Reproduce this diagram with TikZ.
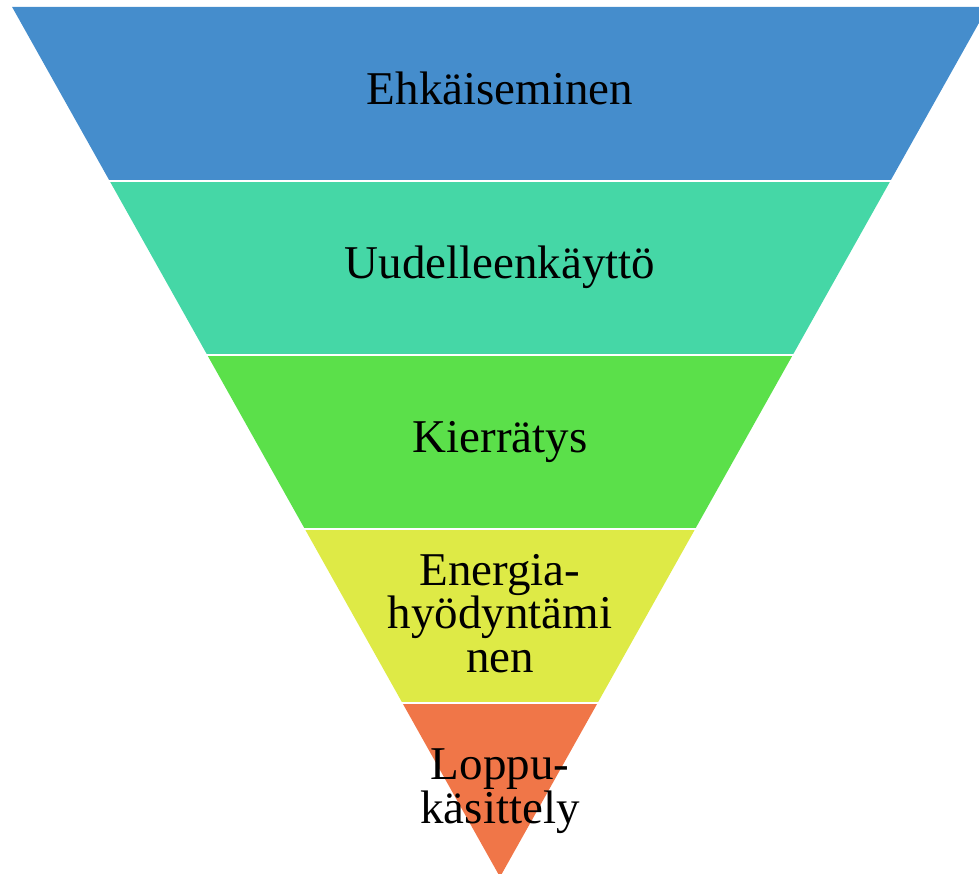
\documentclass[tikz,border=0pt]{standalone}
\usepackage{fontspec}
\setmainfont{Liberation Serif}
\usetikzlibrary{calc}

\definecolor{preventblue}{HTML}{458DCC}
\definecolor{reuseteal}{HTML}{45D7A6}
\definecolor{recyclegreen}{HTML}{5BE04A}
\definecolor{energyyellow}{HTML}{DEEA46}
\definecolor{disposalorange}{HTML}{F07648}

\begin{document}
\begin{tikzpicture}
[
    x=1pt, y=1pt,
    gap/.style={white, line width=2pt},
    level/.style={
        font=\fontsize{47}{43.5}\selectfont,
        align=center,
        inner sep=0pt,
        anchor=base,
    }
]
\useasboundingbox (0,0) rectangle (979,873);
\clip (0,0) rectangle (979,873);

% Define the corners of the funnel
\coordinate (apex) at (500,-4);
\coordinate (topleft) at (12.1,866);
\coordinate (topright) at (987.9,866);

% Bands from top to bottom
\foreach \col [count=\i] in {preventblue,reuseteal,recyclegreen,energyyellow,disposalorange} {
    \pgfmathsetmacro{\upper}{1.2-0.2*\i}
    \pgfmathsetmacro{\lower}{1-0.2*\i}
    \fill[\col] ($(apex)!\lower!(topleft)$) -- ($(apex)!\upper!(topleft)$)
        -- ($(apex)!\upper!(topright)$) -- ($(apex)!\lower!(topright)$) -- cycle;
}

% White gaps between the bands
\foreach \f in {0.2,0.4,0.6,0.8}
    \draw[gap] ($(apex)!\f!(topleft)+(-5,0)$) -- ($(apex)!\f!(topright)+(5,0)$);

% Labels (base anchor sits on the last line)
\node[level] (prevent) at (500,768) {Ehkäiseminen};
\node[level] (reuse) at (500,594) {Uudelleenkäyttö};
\node[level] (recycle) at (500,420) {Kierrätys};
\node[level] (energy) at (500,201) {Energia-\\hyödyntämi\\nen};
\node[level] (disposal) at (500,50) {Loppu-\\käsittely};

\end{tikzpicture}
\end{document}
